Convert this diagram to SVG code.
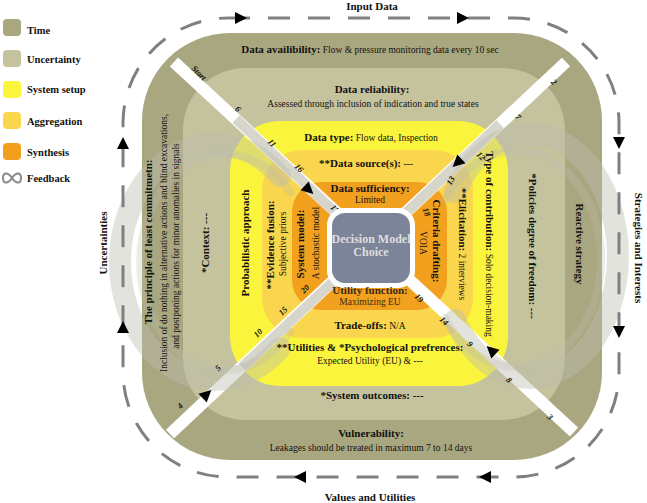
<svg xmlns="http://www.w3.org/2000/svg" width="647" height="503" viewBox="0 0 647 503">
<style>
text{font-family:"Liberation Serif","Times New Roman",serif;fill:#111}
.b{font-weight:bold}
.lg{font-size:10.5px;font-weight:bold}
.h{font-size:11px;font-weight:bold}
.n{font-size:9.5px}
.num{font-size:8.5px;font-weight:bold;font-style:italic}
.dash{fill:none;stroke:#808080;stroke-width:3;stroke-dasharray:22 18}
.ring{fill:none;stroke:#bdbdb0;stroke-linecap:round}
.tri{fill:#000}
</style>
<defs>
<path id="arr" d="M6,0 L-6,-6 L-6,6 Z"/>
</defs>

<g id="legend">
<rect x="3" y="19" width="18" height="17" rx="4" fill="#a9a780"/>
<text class="lg" x="27" y="34">Time</text>
<rect x="3" y="50" width="18" height="17" rx="4" fill="#c4c39e"/>
<text class="lg" x="27" y="63">Uncertainty</text>
<rect x="3" y="81" width="18" height="17" rx="4" fill="#fbf53c"/>
<text class="lg" x="27" y="93">System setup</text>
<rect x="3" y="112" width="18" height="17" rx="4" fill="#fad64c"/>
<text class="lg" x="27" y="125">Aggregation</text>
<rect x="3" y="143" width="18" height="17" rx="4" fill="#f2a01e"/>
<text class="lg" x="27" y="156">Synthesis</text>
<path d="M12,178 C8,172 3,172 3,178 C3,184 8,184 12,178 C16,172 21,172 21,178 C21,184 16,184 12,178 Z" fill="none" stroke="#8a8a8a" stroke-width="2"/>
<text class="lg" x="27" y="182">Feedback</text>
</g>

<g id="layers">
<rect id="time" x="142" y="33" width="460" height="427" rx="88" fill="#a9a780"/>
<rect id="uncertainty" x="183" y="68" width="382" height="352" rx="62" fill="#c4c39e"/>
<rect id="system-setup" x="230" y="121" width="278" height="265" rx="50" fill="#fbf43c"/>
<rect id="aggregation" x="262" y="150" width="211" height="188" rx="40" fill="#f9d64e"/>
<rect id="synthesis" x="292" y="182" width="155" height="128" rx="30" fill="#f2a11f"/>
</g>

<g id="connectors">
<line x1="174" y1="62" x2="574" y2="432" stroke="#fff" stroke-width="12"/>
<line x1="566" y1="62" x2="170" y2="434" stroke="#fff" stroke-width="12"/>
<line x1="236" y1="119" x2="371" y2="246" stroke="#d6d6cc" stroke-width="10"/>
<line x1="500" y1="124" x2="371" y2="246" stroke="#d6d6cc" stroke-width="10"/>
<line x1="371" y1="246" x2="242" y2="367" stroke="#d6d6cc" stroke-width="10"/>
<path class="ring" d="M 280 176 A 95 118 0 1 0 280 348" stroke-width="22" opacity="0.42"/>
<path class="ring" d="M 290 192 A 85 108 0 1 0 290 332" stroke-width="8" opacity="0.3"/>
<path class="ring" d="M 455 192 A 88 122 0 1 1 455 320" stroke-width="22" opacity="0.42"/>
<path class="ring" d="M 445 200 A 85 108 0 1 1 445 318" stroke-width="8" opacity="0.3"/>
<use href="#arr" class="tri" transform="translate(309,190) rotate(43)"/>
<use href="#arr" class="tri" fill="#333" transform="translate(457,163) rotate(137)"/>
<use href="#arr" class="tri" transform="translate(491,350) rotate(223)"/>
<use href="#arr" class="tri" transform="translate(207,394) rotate(-43)"/>
<rect x="123" y="18" width="496" height="459" rx="105" class="dash"/>
<use href="#arr" class="tri" transform="translate(241,18)"/>
<use href="#arr" class="tri" transform="translate(463,18)"/>
<use href="#arr" class="tri" transform="translate(619,143) rotate(90)"/>
<use href="#arr" class="tri" transform="translate(619,332) rotate(90)"/>
<use href="#arr" class="tri" transform="translate(485,477) rotate(180)"/>
<use href="#arr" class="tri" transform="translate(300,477) rotate(180)"/>
<use href="#arr" class="tri" transform="translate(123,327) rotate(-90)"/>
<use href="#arr" class="tri" transform="translate(123,143) rotate(-90)"/>
</g>

<g id="numbers">
<text class="num" transform="translate(197,75) rotate(45)" text-anchor="middle">Start</text>
<text class="num" transform="translate(236,111) rotate(45)" text-anchor="middle">6</text>
<text class="num" transform="translate(270,145) rotate(45)" text-anchor="middle">11</text>
<text class="num" transform="translate(297,170) rotate(45)" text-anchor="middle">16</text>
<text class="num" transform="translate(333,211) rotate(45)" text-anchor="middle">17</text>
<text class="num" transform="translate(552,84) rotate(45)" text-anchor="middle">2</text>
<text class="num" transform="translate(516,119) rotate(45)" text-anchor="middle">7</text>
<text class="num" transform="translate(479,158) rotate(45)" text-anchor="middle">12</text>
<text class="num" transform="translate(453,182) rotate(-60)" text-anchor="middle">13</text>
<text class="num" transform="translate(424,213) rotate(70)" text-anchor="middle">18</text>
<text class="num" transform="translate(417,300) rotate(45)" text-anchor="middle">19</text>
<text class="num" transform="translate(442,323) rotate(45)" text-anchor="middle">14</text>
<text class="num" transform="translate(468,346) rotate(45)" text-anchor="middle">9</text>
<text class="num" transform="translate(507,382) rotate(45)" text-anchor="middle">8</text>
<text class="num" transform="translate(548,419) rotate(45)" text-anchor="middle">3</text>
<text class="num" transform="translate(307,291) rotate(-45)" text-anchor="middle">20</text>
<text class="num" transform="translate(285,313) rotate(-45)" text-anchor="middle">15</text>
<text class="num" transform="translate(260,335) rotate(-45)" text-anchor="middle">10</text>
<text class="num" transform="translate(220,370) rotate(-45)" text-anchor="middle">5</text>
<text class="num" transform="translate(182,408) rotate(-45)" text-anchor="middle">4</text>
</g>

<g id="center">
<rect x="327" y="208" width="88" height="80" rx="17" fill="#fff"/>
<rect x="332" y="213" width="78" height="70" rx="13" fill="#7c8499"/>
<text x="371" y="243" text-anchor="middle" class="b" font-size="12" style="fill:#dedede">Decision Model</text>
<text x="371" y="256" text-anchor="middle" class="b" font-size="12" style="fill:#dedede">Choice</text>
</g>

<g id="outer-labels">
<text class="h" x="372" y="10" text-anchor="middle">Input Data</text>
<text class="h" x="370" y="501" text-anchor="middle">Values and Utilities</text>
<text class="h" transform="translate(107,243) rotate(-90)" text-anchor="middle">Uncertainties</text>
<text class="h" transform="translate(635,248) rotate(90)" text-anchor="middle">Strategies and Interests</text>
</g>

<g id="top-texts">
<text x="370" y="53" text-anchor="middle"><tspan class="h">Data availibility:</tspan><tspan class="n"> Flow &amp; pressure monitoring data every 10 sec</tspan></text>
<text class="h" x="372" y="93" text-anchor="middle">Data reliability:</text>
<text class="n" x="373" y="107" text-anchor="middle">Assessed through inclusion of indication and true states</text>
<text x="371" y="141" text-anchor="middle"><tspan class="h">Data type:</tspan><tspan class="n"> Flow data, Inspection</tspan></text>
<text x="366" y="167" text-anchor="middle"><tspan class="h">**Data source(s):</tspan><tspan class="n"> ---</tspan></text>
<text class="h" x="370" y="192" text-anchor="middle">Data sufficiency:</text>
<text class="n" x="370" y="203" text-anchor="middle" font-size="10.5">Limited</text>
</g>

<g id="bottom-texts">
<text class="h" x="370" y="294" text-anchor="middle" style="fill:#3a2a14">Utility function:</text>
<text class="n" x="370" y="305" text-anchor="middle" style="fill:#3a2a14">Maximizing EU</text>
<text x="370" y="329" text-anchor="middle"><tspan class="h">Trade-offs:</tspan><tspan class="n"> N/A</tspan></text>
<text class="h" x="370" y="351" text-anchor="middle">**Utilities &amp; *Psychological prefrences:</text>
<text class="n" x="370" y="364" text-anchor="middle">Expected Utility (EU) &amp; ---</text>
<text class="h" x="372" y="399" text-anchor="middle">*System outcomes: ---</text>
<text class="h" x="371" y="437" text-anchor="middle">Vulnerability:</text>
<text class="n" x="371" y="451" text-anchor="middle">Leakages should be treated in maximum 7 to 14 days</text>
</g>

<g id="left-texts">
<text class="h" transform="translate(152,242) rotate(-90)" text-anchor="middle">The principle of least commitmetn:</text>
<text class="n" transform="translate(166.5,243) rotate(-90)" text-anchor="middle">Inclusion of do nothing in alternative actions and blind excavations,</text>
<text class="n" transform="translate(178.5,246) rotate(-90)" text-anchor="middle">and postponing actions for minor anomalies in signals</text>
<text class="h" transform="translate(209,243) rotate(-90)" text-anchor="middle">*Context: ---</text>
<text class="h" transform="translate(249,243) rotate(-90)" text-anchor="middle">Probabilistic approach</text>
<text class="h" transform="translate(274,245) rotate(-90)" text-anchor="middle">**Evidence fusion:</text>
<text class="n" transform="translate(285.5,244) rotate(-90)" text-anchor="middle">Subjective priors</text>
<text class="h" transform="translate(304,244) rotate(-90)" text-anchor="middle">System model:</text>
<text class="n" transform="translate(318.5,243) rotate(-90)" text-anchor="middle">A stochastic model</text>
</g>

<g id="right-texts">
<text transform="translate(486,244) rotate(90)" text-anchor="middle"><tspan class="h" font-size="10.5">Type of contribution:</tspan><tspan class="n" font-size="9"> Solo decision-making</tspan></text>
<text transform="translate(459,244) rotate(90)" text-anchor="middle"><tspan class="h">**Elicitation:</tspan><tspan class="n" font-size="10.5"> 2 interviews</tspan></text>
<text class="h" transform="translate(433,241) rotate(90)" text-anchor="middle">Criteria drafting:</text>
<text class="n" transform="translate(420,243) rotate(90)" text-anchor="middle" font-size="8">VOIA</text>
<text class="h" transform="translate(529,246) rotate(90)" text-anchor="middle">*Policies degree of freedom: ---</text>
<text class="h" transform="translate(576,244) rotate(90)" text-anchor="middle">Reactive strategy</text>
</g>
</svg>
